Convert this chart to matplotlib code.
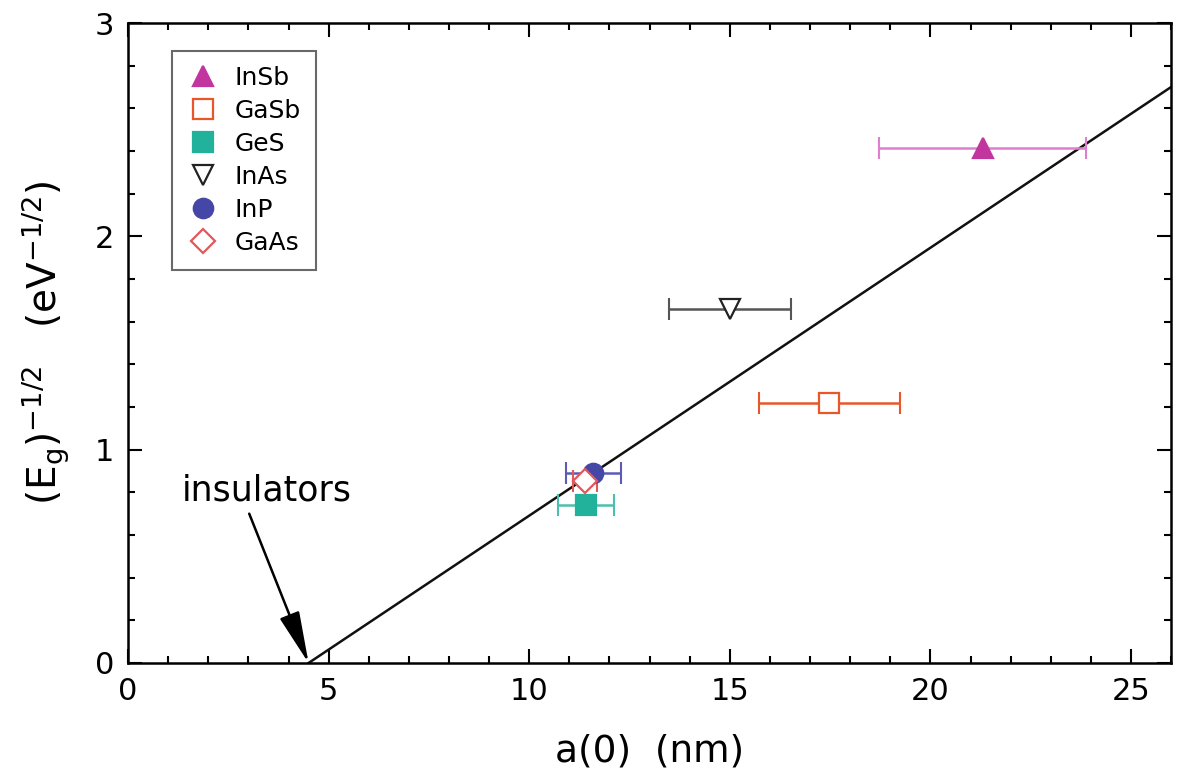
import numpy as np
import matplotlib
matplotlib.use('Agg')
import matplotlib.pyplot as plt
from matplotlib.ticker import MultipleLocator

plt.rcParams['font.family'] = ['DejaVu Sans']
plt.rcParams['mathtext.default'] = 'regular'

# data
names = ['InSb', 'GaSb', 'GeS', 'InAs', 'InP', 'GaAs']
a0 = [21.3, 17.48, 11.42, 15.01, 11.6, 11.38]
a0_err = [2.57, 1.75, 0.70, 1.52, 0.69, 0.30]
eg_inv = [2.415, 1.217, 0.74, 1.66, 0.89, 0.855]
markers = ['^', 's', 's', 'v', 'o', 'D']
filled = [True, False, True, False, True, False]
colors = ['#c2359f', '#e8562a', '#22b29c', '#222222', '#4547a6', '#e2585a']
err_colors = ['#e07dcc', '#e8562a', '#4cc0ac', '#555555', '#5a5cb8', '#e2585a']
msizes = [15, 15, 15, 15, 14, 12]

fit_x = [4.5, 26.0]
fit_y = [0.0, 2.7]

fig = plt.figure(figsize=(11.77, 7.8), dpi=100)
ax = fig.add_axes([0.1088, 0.15, 0.8862, 0.8205])

ax.plot(fit_x, fit_y, color='#111111', lw=1.8, zorder=2)

handles = []
for i in range(len(names)):
    ax.errorbar(a0[i], eg_inv[i], xerr=a0_err[i], fmt='none',
                ecolor=err_colors[i], elinewidth=1.8, capsize=8, capthick=1.5, zorder=3)
    h, = ax.plot(a0[i], eg_inv[i], linestyle='none', marker=markers[i],
                 markersize=msizes[i],
                 markerfacecolor=colors[i] if filled[i] else 'white',
                 markeredgecolor=colors[i], markeredgewidth=1.6, zorder=4,
                 label=names[i])
    handles.append(h)

# arrow pointing at the intercept
ax.annotate('', xy=(4.5, 0.0), xytext=(3.02, 0.70),
            arrowprops=dict(arrowstyle='-|>,head_length=1.6,head_width=0.32',
                            mutation_scale=20, color='black', lw=1.8,
                            shrinkA=0, shrinkB=0))
ax.text(1.35, 0.76, 'insulators', fontsize=25, ha='left', va='baseline')

ax.set_xlim(0, 26)
ax.set_ylim(0, 3)
ax.xaxis.set_major_locator(MultipleLocator(5))
ax.xaxis.set_minor_locator(MultipleLocator(1))
ax.yaxis.set_major_locator(MultipleLocator(1))
ax.yaxis.set_minor_locator(MultipleLocator(0.2))
ax.tick_params(which='both', direction='in', top=True, right=True, width=1.5)
ax.tick_params(which='major', length=10, labelsize=22, pad=10)
ax.tick_params(which='minor', length=5)
for s in ax.spines.values():
    s.set_linewidth(1.8)

ax.set_xlabel('a(0)  (nm)', fontsize=27, labelpad=20)
ax.set_ylabel(r'$(E_g)^{-1/2}$   (eV$^{-1/2}$)', fontsize=28, labelpad=16)

leg = ax.legend(handles=handles, loc='upper left', bbox_to_anchor=(0.042, 0.956),
                borderaxespad=0, fontsize=18, frameon=True, fancybox=False,
                edgecolor='#444444', handletextpad=0.6, labelspacing=0.36,
                borderpad=0.6, handlelength=1.3)
leg.get_frame().set_linewidth(1.5)

fig.savefig('out.png', dpi=100)
